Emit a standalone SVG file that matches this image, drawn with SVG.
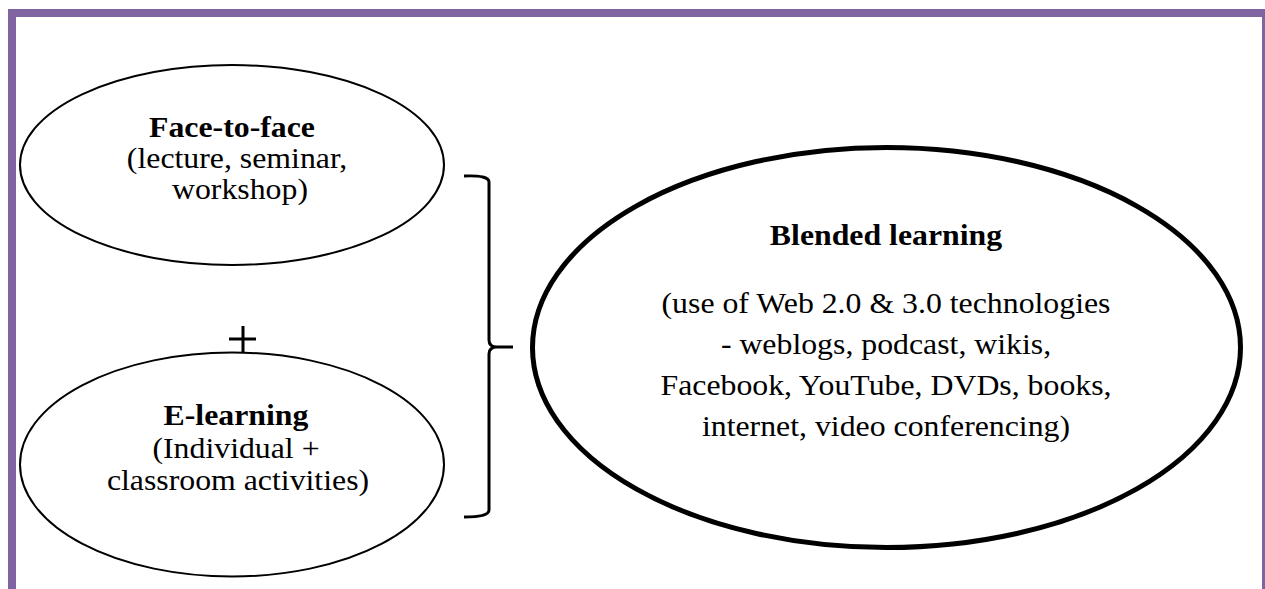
<svg xmlns="http://www.w3.org/2000/svg" width="1265" height="589" viewBox="0 0 1265 589">
<style>
.frame{fill:#8064a2}
.small{fill:#fff;stroke:#000;stroke-width:2}
.big{fill:#fff;stroke:#000;stroke-width:5}
.conn{fill:none;stroke:#000;stroke-width:3}
text{font-family:"Liberation Serif","Times New Roman",serif;font-size:30px;fill:#000;text-anchor:middle}
.b{font-weight:bold}
</style>
<rect width="1265" height="589" fill="#fff"/>
<g id="frame">
<rect class="frame" x="8" y="9" width="1257" height="8"/>
<rect class="frame" x="8" y="9" width="8" height="580"/>
<rect class="frame" x="1262" y="9" width="3" height="580"/>
</g>
<g id="face-to-face">
<ellipse class="small" cx="232" cy="165" rx="212" ry="100"/>
<text class="b" transform="translate(232,137) scale(1.06,1)">Face-to-face</text>
<text transform="translate(237,168) scale(1.06,1)">(lecture, seminar,</text>
<text transform="translate(240,199) scale(1.06,1)">workshop)</text>
</g>
<g id="e-learning">
<ellipse class="small" cx="232" cy="464.5" rx="212" ry="112"/>
<text class="b" transform="translate(236,425) scale(1.06,1)">E-learning</text>
<text transform="translate(236,458) scale(1.06,1)">(Individual +</text>
<text transform="translate(238,490) scale(1.06,1)">classroom activities)</text>
</g>
<g id="blended">
<ellipse class="big" cx="886.5" cy="347.5" rx="354" ry="200"/>
<text class="b" transform="translate(886,245) scale(1.06,1)">Blended learning</text>
<text transform="translate(886,313) scale(1.06,1)">(use of Web 2.0 &amp; 3.0 technologies</text>
<text transform="translate(886,354) scale(1.06,1)">- weblogs, podcast, wikis,</text>
<text transform="translate(886,395) scale(1.06,1)">Facebook, YouTube, DVDs, books,</text>
<text transform="translate(886,436) scale(1.06,1)">internet, video conferencing)</text>
</g>
<g id="connectors">
<path class="conn" d="M243,326 L243,352 M229,339 L256,339"/>
<path class="conn" d="M464,176 Q489,175 489,182 L489,340 Q489,347 497,347 L513,347 M497,347 Q489,347 489,354 L489,510 Q489,517 464,517"/>
</g>
</svg>
